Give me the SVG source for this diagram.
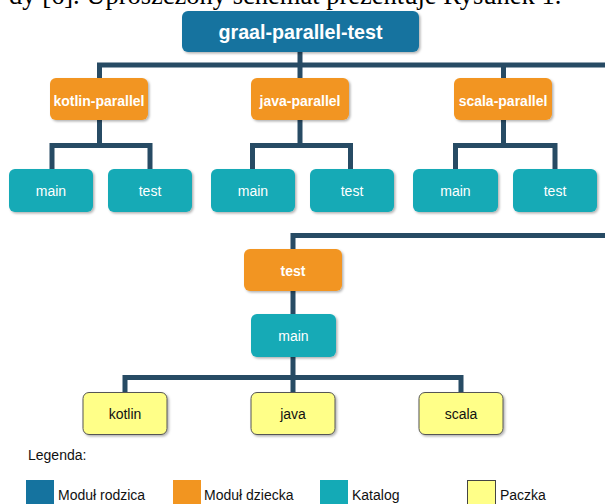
<svg xmlns="http://www.w3.org/2000/svg" width="605" height="504" viewBox="0 0 605 504">
<defs>
<filter id="sh" x="-10%" y="-10%" width="130%" height="140%">
<feDropShadow dx="1.5" dy="1.5" stdDeviation="0.8" flood-color="#000" flood-opacity="0.3"/>
</filter>
<style>
.t{font-family:"Liberation Sans",Arial,sans-serif;text-anchor:middle}
.root{fill:#15739F;filter:url(#sh)}
.mod{fill:#F29520;filter:url(#sh)}
.dir{fill:#14AAB6;filter:url(#sh)}
.pkg{fill:#FFFF88;stroke:#555;stroke-width:1;filter:url(#sh)}
.bw{fill:#fff;font-weight:bold;font-size:14px}
.w{fill:#fff;font-size:14px}
.k{fill:#111;font-size:14px}
.c{fill:none;stroke:#274B64;stroke-width:5;stroke-linejoin:miter;stroke-linecap:butt}
.lg{font-family:"Liberation Sans",Arial,sans-serif;font-size:14px;fill:#111}
</style>
</defs>
<rect width="605" height="504" fill="#fff"/>
<text x="9" y="4" font-family="'Liberation Serif','Times New Roman',serif" font-size="26.5" fill="#000">dy [6]. Uproszczony schemat prezentuje Rysunek 1.</text>
<g id="connectors">
<polyline class="c" points="99.5,78 99.5,65 605,65"/>
<line class="c" x1="300" y1="52" x2="300" y2="78"/>
<line class="c" x1="503.5" y1="65" x2="503.5" y2="78"/>
<polyline class="c" points="99.5,120 99.5,145.5"/>
<polyline class="c" points="52,169 52,145.5 150,145.5 150,169"/>
<polyline class="c" points="300,120 300,145.5"/>
<polyline class="c" points="252.5,169 252.5,145.5 350.5,145.5 350.5,169"/>
<polyline class="c" points="503.5,120 503.5,145.5"/>
<polyline class="c" points="455.5,169 455.5,145.5 555,145.5 555,169"/>
<polyline class="c" points="293,249 293,235.5 605,235.5"/>
<line class="c" x1="293" y1="291" x2="293" y2="314"/>
<line class="c" x1="293" y1="357" x2="293" y2="392"/>
<polyline class="c" points="125,392 125,377.5 461,377.5 461,392"/>
</g>
<g id="root"><rect class="root" x="182" y="11" width="237" height="41" rx="6"/><text class="t" x="300.5" y="38.5" fill="#fff" font-weight="bold" font-size="19.7">graal-parallel-test</text></g>
<g id="kotlin-parallel"><rect class="mod" x="50" y="78" width="98" height="42" rx="6"/><text class="t bw" x="99" y="105.5">kotlin-parallel</text></g>
<g id="java-parallel"><rect class="mod" x="251" y="78" width="98" height="42" rx="6"/><text class="t bw" x="300" y="105.5">java-parallel</text></g>
<g id="scala-parallel"><rect class="mod" x="454" y="78" width="98" height="42" rx="6"/><text class="t bw" x="503" y="105.5">scala-parallel</text></g>
<g id="kotlin-main"><rect class="dir" x="9" y="169" width="84" height="43" rx="6"/><text class="t w" x="51" y="195.5">main</text></g>
<g id="kotlin-test"><rect class="dir" x="108" y="169" width="84" height="43" rx="6"/><text class="t w" x="150" y="195.5">test</text></g>
<g id="java-main"><rect class="dir" x="211" y="169" width="84" height="43" rx="6"/><text class="t w" x="253" y="195.5">main</text></g>
<g id="java-test"><rect class="dir" x="310" y="169" width="84" height="43" rx="6"/><text class="t w" x="352" y="195.5">test</text></g>
<g id="scala-main"><rect class="dir" x="413" y="169" width="85" height="43" rx="6"/><text class="t w" x="455.5" y="195.5">main</text></g>
<g id="scala-test"><rect class="dir" x="513" y="169" width="84" height="43" rx="6"/><text class="t w" x="555" y="195.5">test</text></g>
<g id="test"><rect class="mod" x="244" y="249" width="98" height="42" rx="6"/><text class="t bw" x="293" y="275.5">test</text></g>
<g id="test-main"><rect class="dir" x="251" y="314" width="85" height="43" rx="6"/><text class="t w" x="293.5" y="341">main</text></g>
<g id="pkg-kotlin"><rect class="pkg" x="83" y="392.5" width="84" height="42" rx="6"/><text class="t k" x="125" y="418.5">kotlin</text></g>
<g id="pkg-java"><rect class="pkg" x="251" y="392.5" width="84" height="42" rx="6"/><text class="t k" x="293" y="418.5">java</text></g>
<g id="pkg-scala"><rect class="pkg" x="419" y="392.5" width="84" height="42" rx="6"/><text class="t k" x="461" y="418.5">scala</text></g>
<g id="legend">
<text class="lg" x="28" y="460" font-size="12">Legenda:</text>
<rect x="26" y="480" width="28" height="30" fill="#15739F"/>
<text class="lg" x="58" y="500">Moduł rodzica</text>
<rect x="173" y="480" width="28" height="30" fill="#F29520"/>
<text class="lg" x="204" y="500">Moduł dziecka</text>
<rect x="320" y="480" width="28" height="30" fill="#14AAB6"/>
<text class="lg" x="352" y="500">Katalog</text>
<rect x="467.5" y="480.5" width="28" height="30" fill="#FFFF88" stroke="#444" stroke-width="1"/>
<text class="lg" x="500" y="500">Paczka</text>
</g>
</svg>
